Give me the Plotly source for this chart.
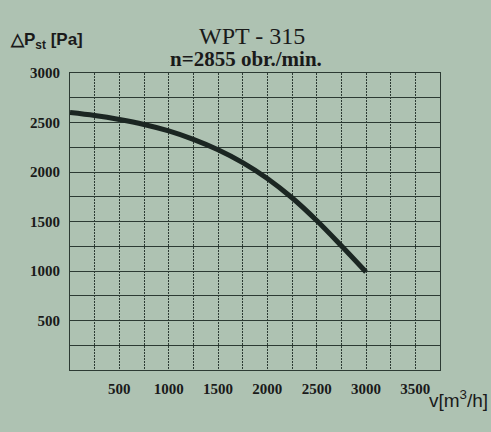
import plotly.graph_objects as go

# Data
flow = [0, 250, 500, 750, 1000, 1250, 1500, 1750, 2000, 2250, 2500, 2750, 3000]
pressure = [2600, 2570, 2530, 2480, 2415, 2330, 2225, 2095, 1935, 1740, 1510, 1255, 990]
x_ticks = [500, 1000, 1500, 2000, 2500, 3000, 3500]
y_ticks = [500, 1000, 1500, 2000, 2500, 3000]

BG = "#aec2b2"
GRID = "#2c3a33"

fig = go.Figure()
fig.add_trace(go.Scatter(
    x=flow, y=pressure, mode="lines", line=dict(color="#1b2622", width=5, shape="spline"),
    showlegend=False, hoverinfo="skip"))

tickfont = dict(family="Liberation Serif", size=15, color="#1a1a1a", weight="bold")

fig.update_xaxes(
    range=[0, 3750], tickvals=x_ticks, ticktext=[str(v) for v in x_ticks],
    showgrid=True, gridcolor=GRID, gridwidth=1, griddash="2px,1px",
    minor=dict(dtick=250, tick0=0, showgrid=True, gridcolor=GRID, gridwidth=1, griddash="2px,1px"),
    zeroline=False, showline=True, linecolor=GRID, linewidth=1, mirror=True,
    ticks="", tickfont=tickfont, ticklabelstandoff=5,
)
fig.update_yaxes(
    range=[0, 3000], tickvals=y_ticks, ticktext=[str(v) for v in y_ticks],
    showgrid=True, gridcolor=GRID, gridwidth=1,
    minor=dict(dtick=250, tick0=0, showgrid=True, gridcolor=GRID, gridwidth=1),
    zeroline=False, showline=True, linecolor=GRID, linewidth=1, mirror=True,
    ticks="", tickfont=tickfont, ticklabelstandoff=6,
)

fig.update_layout(
    width=491, height=432,
    margin=dict(l=70, r=51, t=73, b=62),
    paper_bgcolor=BG, plot_bgcolor=BG,
    annotations=[
        dict(text="WPT - 315", x=252, y=21, xref="paper", yref="paper", showarrow=False,
             font=dict(family="Liberation Serif", size=24, color="#1a1a1a")),
        dict(text="n=2855 obr./min.", x=246, y=45, xref="paper", yref="paper", showarrow=False,
             font=dict(family="Liberation Serif", size=21, color="#1a1a1a", weight="bold")),
        dict(text="△P<sub>st</sub> [Pa]", x=8, y=28, xref="paper", yref="paper", showarrow=False,
             xanchor="left", font=dict(family="Liberation Sans Narrow, Liberation Sans", size=17, color="#1a1a1a", weight="bold")),
        dict(text="v[m<sup>3</sup>/h]", x=490, y=413, xref="paper", yref="paper", showarrow=False,
             xanchor="right", font=dict(family="Liberation Sans Narrow, Liberation Sans", size=19, color="#1a1a1a")),
    ],
)

# convert pixel positions of annotations into paper coordinates
pw, ph = 491 - 70 - 51, 432 - 73 - 62
for a in fig.layout.annotations:
    a.x = (a.x - 70) / pw
    a.y = (432 - 62 - a.y) / ph

fig.write_html(
    "out.html",
    config={"displayModeBar": False},
    post_script="document.body.style.margin='0';document.body.style.overflow='hidden';",
)
